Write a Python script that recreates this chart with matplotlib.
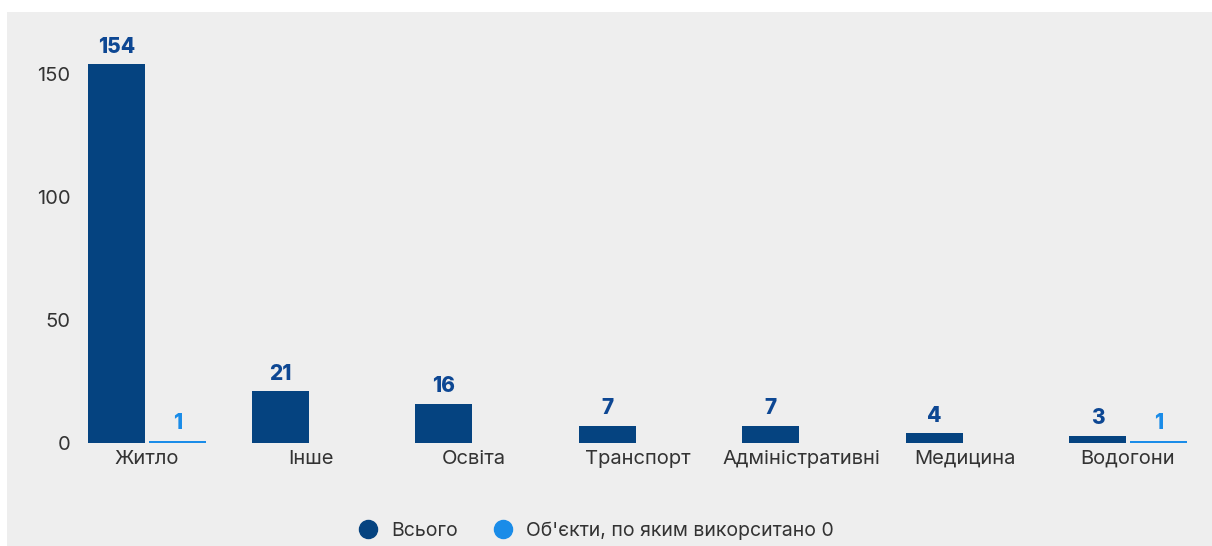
import numpy as np
import matplotlib.pyplot as plt
from matplotlib.patches import Rectangle
from matplotlib.lines import Line2D

categories = ['Житло', 'Інше', 'Освіта', 'Транспорт', 'Адміністративні', 'Медицина', 'Водогони']
total = [154, 21, 16, 7, 7, 4, 3]
used_zero = [1, 0, 0, 0, 0, 0, 1]
series_names = ['Всього', "Об'єкти, по яким викорситано 0"]

dark = '#054380'
light = '#1a8ce8'
dark_label = '#0d4793'
bg = '#eeeeee'

plt.rcParams['font.family'] = ['Inter', 'DejaVu Sans']

W, H = 1212, 546
fig = plt.figure(figsize=(W / 100, H / 100), dpi=100, facecolor='white')
fig.patches.append(Rectangle((7 / W, 0), 1, 1 - 12 / H, transform=fig.transFigure,
                             facecolor=bg, edgecolor='none', zorder=-10))

# axes placed in pixel terms
left, right, top, bottom = 80, 1200, 30, 443
ax = fig.add_axes([left / W, 1 - bottom / H, (right - left) / W, (bottom - top) / H])
ax.set_facecolor('none')

step = 163.5
x0 = 147
ax.set_xlim((left - x0) / step, (right - x0) / step)
ppu = 123 / 50
ax.set_ylim(0, (bottom - top) / ppu)

x = np.arange(len(categories))
bw = 57 / step
gap = 4 / step

for i, (t, u) in enumerate(zip(total, used_zero)):
    xd = x[i] - bw / 2 - gap / 2
    if u > 0:
        xl = x[i] + bw / 2 + gap / 2
        ax.bar(xl, u, width=bw, color=light)
        ax.text(xl, u + 3, str(u), ha='center', va='bottom', color=light,
                fontsize=15, fontweight='heavy')
    ax.bar(xd, t, width=bw, color=dark)
    ax.text(xd, t + 3, str(t), ha='center', va='bottom', color=dark_label,
            fontsize=15, fontweight='heavy')

ax.set_xticks(x)
ax.set_xticklabels(categories, fontsize=14.5, color='#333333')
ax.set_yticks([0, 50, 100, 150])
ax.tick_params(axis='y', labelsize=14.5, labelcolor='#333333', length=0, pad=7)
ax.tick_params(axis='x', length=0, pad=5)
for s in ax.spines.values():
    s.set_visible(False)

handles = [Line2D([], [], marker='o', linestyle='none', markersize=13, color=dark),
           Line2D([], [], marker='o', linestyle='none', markersize=13, color=light)]
fig.legend(handles, series_names, loc='center', bbox_to_anchor=(591 / W, 1 - 531 / H),
           ncol=2, frameon=False, fontsize=14, handletextpad=0.2, columnspacing=1.3,
           labelcolor='#333333')

fig.savefig('out.png', dpi=100, facecolor='white')
